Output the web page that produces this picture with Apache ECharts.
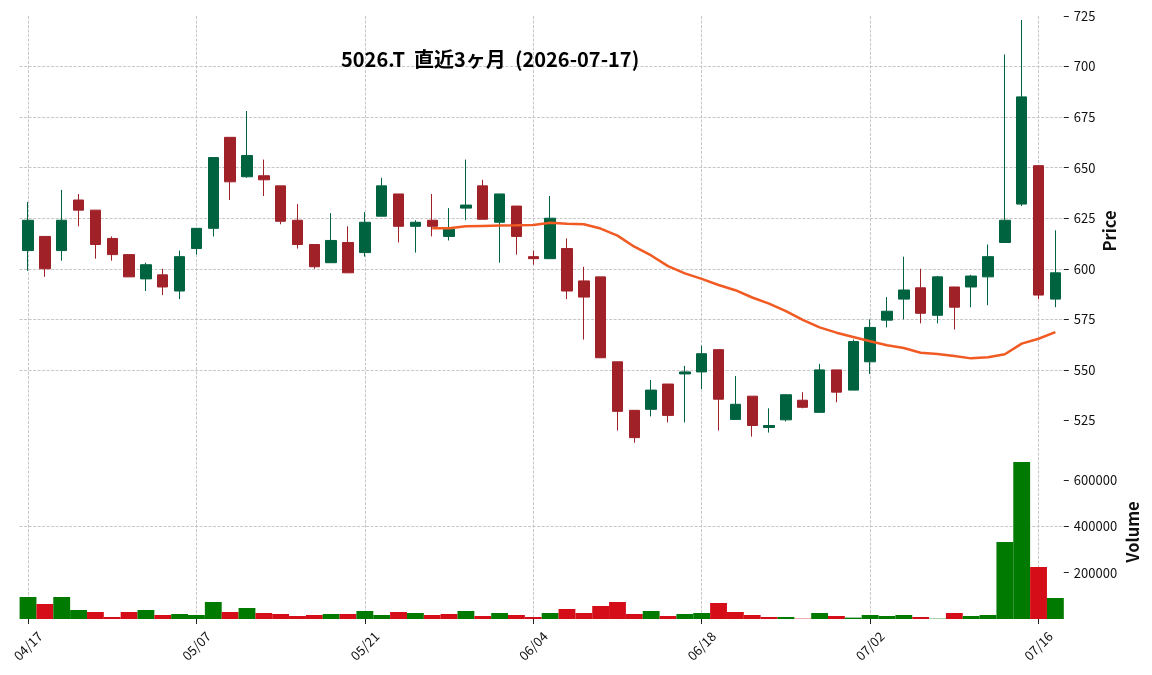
<!DOCTYPE html>
<html>
<head>
<meta charset="utf-8">
<script src="https://cdn.jsdelivr.net/npm/echarts@6/dist/echarts.min.js"></script>
<style>
html, body { margin: 0; padding: 0; background: #fff; }
#chart { width: 1152px; height: 675px; }
</style>
</head>
<body>
<div id="chart"></div>
<script>
// 5026.T 直近3ヶ月 日足
var dates = ['04/17', '04/20', '04/21', '04/22', '04/23', '04/24', '04/27', '04/28', '04/30', '05/01',
	'05/07', '05/08', '05/11', '05/12', '05/13', '05/14', '05/15', '05/18', '05/19', '05/20',
	'05/21', '05/22', '05/25', '05/26', '05/27', '05/28', '05/29', '06/01', '06/02', '06/03',
	'06/04', '06/05', '06/08', '06/09', '06/10', '06/11', '06/12', '06/15', '06/16', '06/17',
	'06/18', '06/19', '06/22', '06/23', '06/24', '06/25', '06/26', '06/29', '06/30', '07/01',
	'07/02', '07/03', '07/06', '07/07', '07/08', '07/09', '07/10', '07/13', '07/14', '07/15',
	'07/16', '07/17'];

var opens = [609, 616, 609, 634, 629, 615, 607, 595, 597, 589,
	610, 620, 665, 645.5, 646, 641, 624, 612, 603, 613,
	608, 626, 637, 621, 624, 616, 630, 641, 623, 631,
	606, 605, 610, 594, 596, 554, 530, 530.5, 543, 548,
	549, 560, 525.5, 537, 521.5, 525.3, 535, 529, 550, 540,
	554, 574.6, 585, 590.6, 577, 591, 591, 596, 613, 632,
	651, 585];
var closes = [624, 600, 624, 629, 612, 607, 596, 602, 591, 606,
	620, 655, 643, 656, 644, 623.5, 612, 601, 614, 598,
	623, 641, 621, 623, 621, 619.6, 631.5, 624.5, 637, 616,
	605, 625, 589, 586, 556, 529.5, 516.5, 540, 527.5, 549,
	558, 535.5, 533, 522.5, 522.5, 537.7, 531.5, 550, 539, 564,
	571, 579, 589.5, 578, 596, 581, 596.4, 606, 624, 685,
	587, 598];
var lows = [599, 596, 604, 621, 605, 604, 596, 589, 587, 585,
	607, 616, 634, 645, 636, 622, 610, 600, 603, 598,
	606, 626, 613, 608, 616, 614, 624, 624.5, 603, 607,
	602, 605, 585, 565, 556, 520, 514, 527, 524, 524,
	540.5, 520, 525.5, 517, 519, 524.5, 531, 529, 534, 540,
	548, 571, 575, 573, 573, 570, 581, 582, 613, 631,
	585, 581];
var highs = [633, 616, 639, 637, 629, 616, 607, 603, 600, 609,
	620, 655, 665, 678, 654, 641, 632, 612, 627.5, 621,
	628, 645, 637, 624, 637, 630, 654, 644, 637, 631,
	609, 636, 615, 601, 596, 554, 530, 545, 543, 552,
	562, 560, 547, 537, 531, 538, 539, 553, 550, 565,
	575, 586, 606, 600, 596.5, 591, 597, 612, 706, 723,
	651, 619];
var volumes = [95000, 64800, 95000, 38900, 30200, 8600, 30200, 38900, 17300, 21600,
	17300, 73400, 30200, 47500, 25900, 21600, 13000, 17300, 21600, 21600,
	34600, 17300, 30200, 25900, 17300, 21600, 34600, 13000, 25900, 17300,
	8600, 25900, 43200, 25900, 56200, 73400, 21600, 34600, 13000, 21600,
	25900, 69100, 30200, 17300, 8600, 8600, 1500, 25900, 13000, 6000,
	17300, 13000, 17300, 8600, 1500, 25900, 13000, 17300, 332600, 678200,
	224600, 90700];
// 25日移動平均
var ma25 = [null, null, null, null, null, null, null, null, null, null,
	null, null, null, null, null, null, null, null, null, null,
	null, null, null, null, 620, 620, 621, 621.2, 621.4, 621.5,
	621.7, 622.8, 622.3, 622, 619.9, 616.4, 610.9, 606.6, 601.3, 597.7,
	595, 592, 589.4, 585.8, 582.8, 579.1, 574.7, 571, 568.4, 566.3,
	564.2, 562.2, 560.8, 558.5, 557.8, 556.9, 555.7, 556.2, 557.7, 563,
	565.4, 568.7];

var priceTicks = [525, 550, 575, 600, 625, 650, 675, 700, 725];
var volTicks = [200000, 400000, 600000];

var FONT = 'Noto Sans CJK JP';
var gridLine = { show: true, showMinLine: false, showMaxLine: false,
	lineStyle: { color: '#b9b9b9', width: 0.8, type: [3, 1.5] } };

var candleData = opens.map(function (o, i) {
	return [o, closes[i], lows[i], highs[i]];
});
// 出来高の色は前日終値との比較
var volData = volumes.map(function (v, i) {
	var up = i === 0 || closes[i] > closes[i - 1];
	return { value: v, itemStyle: { color: up ? '#007a00' : '#d50d18' } };
});
var every10 = function (index) { return index % 10 === 0; };

// 軸名 (パネル中央に置く)
function axisName(text, x, y) {
	return {
		type: 'text', x: x, y: y, rotation: Math.PI / 2,
		style: { text: text, fill: '#111', font: 'bold 16.5px "Noto Sans CJK JP"',
			align: 'center', verticalAlign: 'middle' }
	};
}

var myChart = echarts.init(document.getElementById('chart'), null, { renderer: 'canvas' });
var option = {
	animation: false,
	backgroundColor: '#fff',
	textStyle: { fontFamily: FONT },
	title: {
		text: '5026.T  直近3ヶ月  (2026-07-17)',
		left: 336,
		top: 44,
		textStyle: { fontFamily: FONT, fontSize: 20, fontWeight: 'bold', color: '#000' }
	},
	graphic: [
		axisName('Price', 1110, 231),
		axisName('Volume', 1133, 532)
	],
	grid: [
		{ left: 19.6, width: 1044.2, top: 16, height: 455 },
		{ left: 19.6, width: 1044.2, top: 433.8, height: 185.2 },
		{ left: 28.02, width: 1027.3, top: 16, height: 603 }
	],
	xAxis: [
		{ type: 'category', gridIndex: 0, data: dates, show: false },
		{ type: 'category', gridIndex: 1, data: dates, show: false },
		{
			type: 'category', gridIndex: 2, data: dates, boundaryGap: false,
			axisLine: { show: false },
			axisTick: { show: true, interval: every10, length: 5, lineStyle: { color: '#222', width: 1 } },
			axisLabel: { interval: every10, rotate: 45, align: 'center', verticalAlign: 'middle',
				margin: 27, fontSize: 13, color: '#111', fontFamily: FONT },
			splitLine: { show: true, interval: every10,
				lineStyle: { color: '#b9b9b9', width: 0.8, type: [3, 1.5] } }
		}
	],
	yAxis: [
		{
			type: 'value', gridIndex: 0, position: 'right', min: 500, max: 725, interval: 25,
			axisLine: { show: false },
			axisTick: { show: true, length: 5, customValues: priceTicks, lineStyle: { color: '#222' } },
			axisLabel: { customValues: priceTicks, margin: 10, fontSize: 13, color: '#111', fontFamily: FONT },
			splitLine: gridLine
		},
		{
			type: 'value', gridIndex: 1, position: 'right', min: 0, max: 800000, interval: 200000,
			axisLine: { show: false },
			axisTick: { show: true, length: 5, customValues: volTicks, lineStyle: { color: '#222' } },
			axisLabel: { customValues: volTicks, margin: 10, fontSize: 13, color: '#111', fontFamily: FONT,
				formatter: function (v) { return String(v); } },
			splitLine: gridLine
		},
		{ type: 'value', gridIndex: 2, min: 0, max: 1, show: false }
	],
	series: [
		{
			name: '5026.T', type: 'candlestick', xAxisIndex: 0, yAxisIndex: 0,
			data: candleData, barWidth: '65%',
			itemStyle: { color: '#006340', color0: '#a02128', borderColor: '#006340',
				borderColor0: '#a02128', borderWidth: 1 }
		},
		{
			name: 'MA25', type: 'line', xAxisIndex: 0, yAxisIndex: 0, data: ma25,
			showSymbol: false, connectNulls: false,
			lineStyle: { color: '#f15a22', width: 2.5 }, z: 5
		},
		{
			name: 'Volume', type: 'bar', xAxisIndex: 1, yAxisIndex: 1,
			data: volData, barWidth: '100%'
		}
	]
};
myChart.setOption(option);
</script>
</body>
</html>
